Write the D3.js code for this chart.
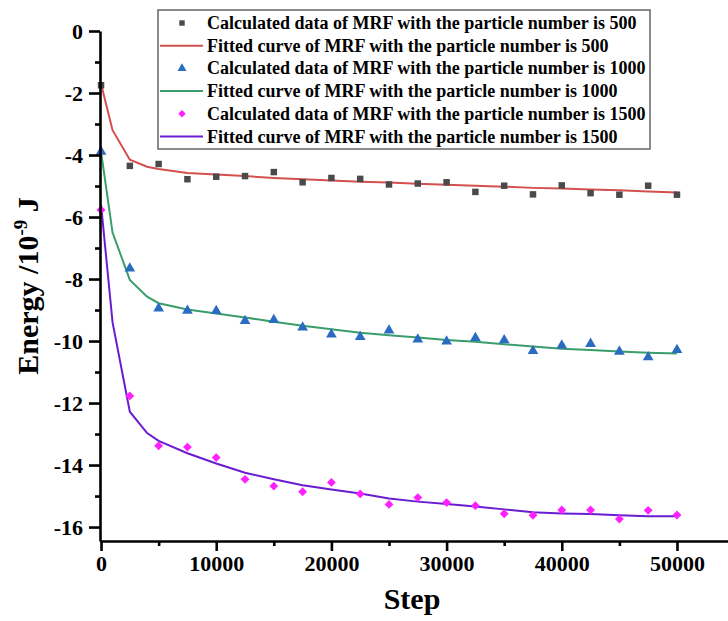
<!DOCTYPE html>
<html>
<head>
<meta charset="utf-8">
<script src="https://cdn.jsdelivr.net/npm/d3@7"></script>
<style>
  body { margin: 0; background: #fff; }
  svg { display: block; }
  .axis path, .axis line { stroke: #000; stroke-width: 2.6; }
  .axis text { font-family: "Liberation Serif", "Times New Roman", serif; font-weight: bold; font-size: 22px; fill: #000; }
</style>
</head>
<body>
<script>
var w = 728;
var h = 621;

// steps where the calculated data were sampled
var steps = [0, 2500, 5000, 7500, 10000, 12500, 15000, 17500, 20000, 22500, 25000,
             27500, 30000, 32500, 35000, 37500, 40000, 42500, 45000, 47500, 50000];

// calculated data
var calc500 = [-1.75, -4.35, -4.29, -4.78, -4.70, -4.68, -4.55, -4.88, -4.74, -4.77, -4.95,
               -4.92, -4.88, -5.19, -4.99, -5.27, -4.98, -5.23, -5.28, -4.99, -5.28];
var calc1000 = [-3.89, -7.66, -8.95, -9.02, -9.03, -9.35, -9.32, -9.56, -9.79, -9.87, -9.66,
                -9.95, -10.01, -9.90, -9.97, -10.32, -10.14, -10.09, -10.34, -10.52, -10.29];
var calc1500 = [-5.77, -11.77, -13.38, -13.42, -13.76, -14.46, -14.68, -14.86, -14.56, -14.93, -15.27,
                -15.05, -15.21, -15.31, -15.57, -15.62, -15.45, -15.45, -15.74, -15.46, -15.61];

// fitted curves, sampled at these steps
var fitSteps = [0, 1000, 2500, 4000, 5000, 7500, 10000, 12500, 15000, 17500, 20000, 22500, 25000,
                27500, 30000, 32500, 35000, 37500, 40000, 42500, 45000, 47500, 50000];
var fit500 = [-1.70, -3.20, -4.15, -4.38, -4.45, -4.58, -4.63, -4.68, -4.74, -4.78, -4.82, -4.86, -4.89,
              -4.93, -4.96, -4.99, -5.02, -5.06, -5.08, -5.11, -5.14, -5.18, -5.21];
var fit1000 = [-3.89, -6.50, -8.03, -8.57, -8.78, -8.98, -9.11, -9.24, -9.38, -9.51, -9.62, -9.73, -9.81,
               -9.89, -9.97, -10.02, -10.10, -10.18, -10.25, -10.29, -10.34, -10.38, -10.40];
var fit1500 = [-5.60, -9.40, -12.28, -12.97, -13.22, -13.62, -13.95, -14.25, -14.46, -14.65, -14.79, -14.92, -15.08,
               -15.18, -15.26, -15.34, -15.43, -15.52, -15.56, -15.58, -15.62, -15.65, -15.65];

var xTicks = [0, 10000, 20000, 30000, 40000, 50000];
var xMinor = [5000, 15000, 25000, 35000, 45000];
var yTicks = [0, -2, -4, -6, -8, -10, -12, -14, -16];
var yMinor = [-1, -3, -5, -7, -9, -11, -13, -15];

var legendLabels = [
  "Calculated data of MRF with the particle number is 500",
  "Fitted curve of MRF with the particle number is 500",
  "Calculated data of MRF with the particle number is 1000",
  "Fitted curve of MRF with the particle number is 1000",
  "Calculated data of MRF with the particle number is 1500",
  "Fitted curve of MRF with the particle number is 1500"
];

var grey = "#4a4a4a", red = "#d4504f", blue = "#2a6cc0", green = "#3a9d6c", magenta = "#ff20ff", purple = "#6a1cd0";

var series = [
  { calc: calc500, fit: fit500, mark: d3.symbolSquare, size: 42, mcol: grey, lcol: red },
  { calc: calc1000, fit: fit1000, mark: d3.symbolTriangle, size: 50, mcol: blue, lcol: green },
  { calc: calc1500, fit: fit1500, mark: d3.symbolDiamond2, size: 50, mcol: magenta, lcol: purple }
];

var xScale = d3.scaleLinear().domain([-90, 54430]).range([100, 728]);
var yScale = d3.scaleLinear().domain([0, -16.45]).range([31, 541]);

var svg = d3.select("body").append("svg")
  .attr("width", w)
  .attr("height", h);

// fitted lines
var line = d3.line()
  .x(function(d) { return xScale(d[0]); })
  .y(function(d) { return yScale(d[1]); });

series.forEach(function(s) {
  svg.append("path")
    .datum(fitSteps.map(function(x, i) { return [x, s.fit[i]]; }))
    .attr("d", line)
    .attr("fill", "none")
    .attr("stroke", s.lcol)
    .attr("stroke-width", 2);
});

// calculated points
series.forEach(function(s) {
  svg.selectAll(null)
    .data(steps.map(function(x, i) { return [x, s.calc[i]]; }))
    .enter()
    .append("path")
    .attr("d", d3.symbol().type(s.mark).size(s.size))
    .attr("transform", function(d) {
      return "translate(" + xScale(d[0]) + "," + yScale(d[1]) + ")";
    })
    .attr("fill", s.mcol);
});

// X axis
var xAxis = d3.axisBottom(xScale).tickValues(xTicks).tickSize(10).tickSizeOuter(0).tickPadding(4)
  .tickFormat(d3.format("d"));
svg.append("g")
  .attr("class", "axis")
  .attr("transform", "translate(0," + yScale(-16.45) + ")")
  .call(xAxis);
svg.append("g")
  .attr("class", "axis")
  .attr("transform", "translate(0," + yScale(-16.45) + ")")
  .call(d3.axisBottom(xScale).tickValues(xMinor).tickSize(5).tickSizeOuter(0).tickFormat(""))
  .select(".domain").remove();

// Y axis
var yAxis = d3.axisLeft(yScale).tickValues(yTicks).tickSize(11).tickSizeOuter(0).tickPadding(6)
  .tickFormat(function(d) { return d === 0 ? "0" : d3.format("d")(d).replace("\u2212", "-"); });
svg.append("g")
  .attr("class", "axis")
  .attr("transform", "translate(" + xScale(-90) + ",0)")
  .call(yAxis);
svg.append("g")
  .attr("class", "axis")
  .attr("transform", "translate(" + xScale(-90) + ",0)")
  .call(d3.axisLeft(yScale).tickValues(yMinor).tickSize(5).tickSizeOuter(0).tickFormat(""))
  .select(".domain").remove();

// axis titles
svg.append("text")
  .attr("x", 412)
  .attr("y", 609)
  .attr("text-anchor", "middle")
  .attr("font-family", "Liberation Serif, serif")
  .attr("font-weight", "bold")
  .attr("font-size", "30px")
  .text("Step");

var ylab = svg.append("text")
  .attr("transform", "translate(38,286) rotate(-90)")
  .attr("text-anchor", "middle")
  .attr("font-family", "Liberation Serif, serif")
  .attr("font-weight", "bold")
  .attr("font-size", "30px");
ylab.append("tspan").text("Energy /10");
ylab.append("tspan").attr("dy", -11).attr("font-size", "19px").text("-9");
ylab.append("tspan").attr("dy", 11).text(" J");

// legend
var lg = svg.append("g");
lg.append("rect")
  .attr("x", 158).attr("y", 10)
  .attr("width", 492).attr("height", 139)
  .attr("fill", "#fff")
  .attr("stroke", "#666")
  .attr("stroke-width", 1.5);

legendLabels.forEach(function(label, i) {
  var y = 23 + i * 22.7;
  var s = series[Math.floor(i / 2)];
  if (i % 2 === 0) {
    lg.append("path")
      .attr("d", d3.symbol().type(s.mark).size(s.size * 0.7))
      .attr("transform", "translate(182," + y + ")")
      .attr("fill", s.mcol);
  } else {
    lg.append("line")
      .attr("x1", 160).attr("x2", 203)
      .attr("y1", y).attr("y2", y)
      .attr("stroke", s.lcol)
      .attr("stroke-width", 2);
  }
  lg.append("text")
    .attr("x", 207)
    .attr("y", y + 6)
    .attr("font-family", "Liberation Serif, serif")
    .attr("font-weight", "bold")
    .attr("font-size", "18px")
    .text(label);
});
</script>
</body>
</html>
